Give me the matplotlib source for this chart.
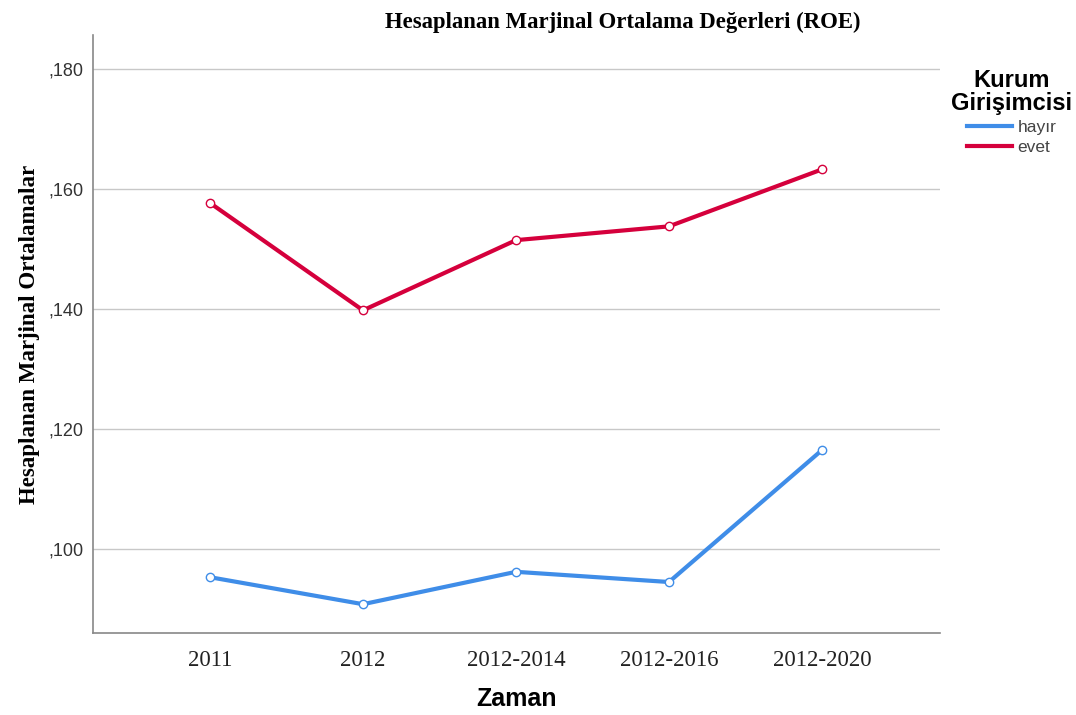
import matplotlib.pyplot as plt
import numpy as np

categories = ['2011', '2012', '2012-2014', '2012-2016', '2012-2020']
hayir = [0.0953, 0.0908, 0.0962, 0.0945, 0.1165]
evet = [0.1577, 0.1398, 0.1515, 0.1538, 0.1633]
yticks = [0.100, 0.120, 0.140, 0.160, 0.180]
ytick_labels = [',100', ',120', ',140', ',160', ',180']

blue = '#3f8de8'
red = '#d5003c'

fig = plt.figure(figsize=(10.76, 7.15), dpi=100)
ax = fig.add_axes([0.0864, 0.1147, 0.787, 0.8363])

x = np.arange(len(categories))
ax.plot(x, hayir, color=blue, lw=3, marker='o', ms=6, mfc='white', mec=blue, mew=1, label='hayır')
ax.plot(x, evet, color=red, lw=3, marker='o', ms=6, mfc='white', mec=red, mew=1, label='evet')

ax.set_xlim(-0.765, 4.77)
ax.set_ylim(0.086, 0.1857)
ax.set_yticks(yticks)
ax.set_yticklabels(ytick_labels, family='Liberation Sans', fontsize=13, color='#333333')
ax.set_xticks(x)
ax.set_xticklabels(categories, family='Liberation Serif', fontsize=16.5, color='#222222')
ax.tick_params(axis='y', length=0, pad=7)
ax.tick_params(axis='x', length=0, pad=12)
ax.grid(axis='y', color='#c8c8c8', lw=1)
ax.set_axisbelow(True)
for s in ['top', 'right']:
    ax.spines[s].set_visible(False)
for s in ['left', 'bottom']:
    ax.spines[s].set_color('#888888')
    ax.spines[s].set_linewidth(1.2)

fig.text(0.579, 0.968, 'Hesaplanan Marjinal Ortalama Değerleri (ROE)', ha='center', va='center',
         family='Liberation Serif', fontweight='bold', fontsize=16.4)
ax.set_ylabel('Hesaplanan Marjinal Ortalamalar', family='Liberation Serif', fontweight='bold',
              fontsize=16.5, labelpad=6)
ax.set_xlabel('Zaman', family='Liberation Sans', fontweight='bold', fontsize=18, labelpad=12)

leg = ax.legend(loc='upper left', bbox_to_anchor=(0.995, 0.97), frameon=False,
                title='Kurum\nGirişimcisi', handlelength=2.6, labelspacing=0.3, handletextpad=0.3,
                prop={'family': 'Liberation Sans', 'size': 12.5})
leg.get_title().set_fontproperties({'family': 'Liberation Sans', 'weight': 'bold', 'size': 17})
leg.get_title().set_linespacing(1.0)
leg.get_title().set_ha('center')
for t in leg.get_texts():
    t.set_color('#444444')
for h in leg.legend_handles:
    h.set_marker('')

plt.savefig('out.png')
